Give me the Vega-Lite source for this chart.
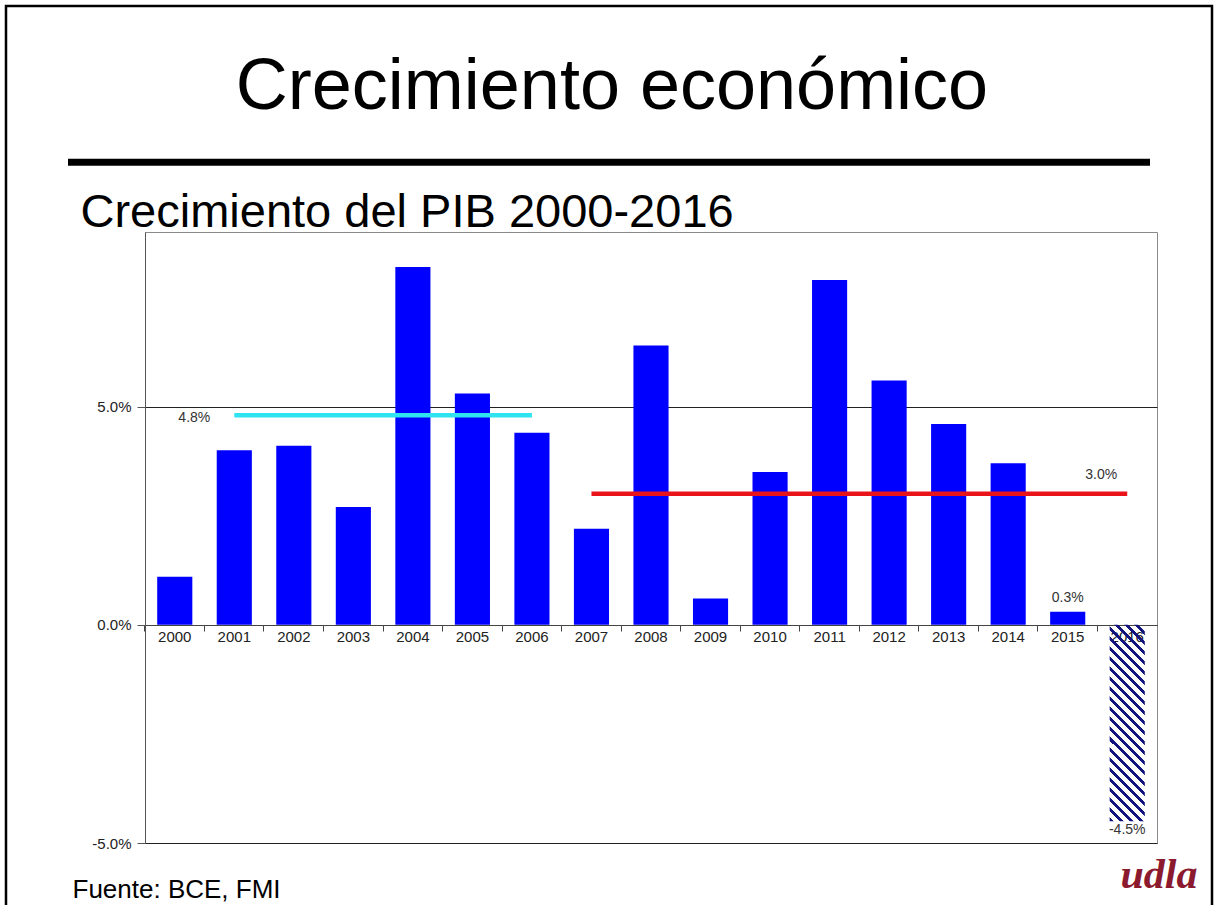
{
  "$schema": "https://vega.github.io/schema/vega-lite/v6.json",
  "autosize": {"type": "none"},
  "padding": {"left": 145, "top": 232, "right": 62, "bottom": 62},
  "width": 1012,
  "height": 611,
  "background": "white",
  "config": {
    "font": "Liberation Sans",
    "view": {"stroke": "#8a8a8a", "strokeWidth": 1}
  },
  "title": {
    "text": "Crecimiento económico",
    "font": "Liberation Sans",
    "fontSize": 72,
    "fontWeight": "normal",
    "color": "#000000",
    "anchor": "middle",
    "frame": "group",
    "baseline": "alphabetic",
    "offset": -176,
    "dx": -39
  },
  "datasets": {
    "gdp": [
      {"year": "2000", "value": 1.1},
      {"year": "2001", "value": 4.0},
      {"year": "2002", "value": 4.1},
      {"year": "2003", "value": 2.7},
      {"year": "2004", "value": 8.2},
      {"year": "2005", "value": 5.3},
      {"year": "2006", "value": 4.4},
      {"year": "2007", "value": 2.2},
      {"year": "2008", "value": 6.4},
      {"year": "2009", "value": 0.6},
      {"year": "2010", "value": 3.5},
      {"year": "2011", "value": 7.9},
      {"year": "2012", "value": 5.6},
      {"year": "2013", "value": 4.6},
      {"year": "2014", "value": 3.7},
      {"year": "2015", "value": 0.3},
      {"year": "2016", "value": -4.5}
    ],
    "avgs": [
      {"period": "2001-2006", "start": "2001", "end": "2006", "value": 4.8, "label": "4.8%"},
      {"period": "2007-2016", "start": "2007", "end": "2016", "value": 3.0, "label": "3.0%"}
    ],
    "notes": [
      {"year": "2015", "value": 0.3, "label": "0.3%"},
      {"year": "2016", "value": -4.5, "label": "-4.5%"}
    ]
  },
  "resolve": {"axis": {"x": "independent"}},
  "layer": [
    {
      "data": {"values": [{}]},
      "mark": {"type": "rect", "fill": null, "stroke": "#000000", "strokeWidth": 2.5},
      "encoding": {
        "x": {"value": -139},
        "x2": {"value": 1067},
        "y": {"value": -226},
        "y2": {"value": 700}
      }
    },
    {
      "data": {"values": [{}]},
      "mark": {"type": "rule", "color": "#000000", "strokeWidth": 7},
      "encoding": {
        "x": {"value": -77},
        "x2": {"value": 1005},
        "y": {"datum": 10.6, "type": "quantitative"}
      }
    },
    {
      "data": {"name": "gdp"},
      "transform": [{"filter": "datum.year !== '2016'"}],
      "mark": {"type": "bar", "color": "#0000ff"},
      "encoding": {
        "x": {
          "field": "year",
          "type": "nominal",
          "scale": {"paddingInner": 0.41, "paddingOuter": 0.205},
          "axis": {
            "orient": "bottom",
            "offset": -218,
            "labelAngle": 0,
            "labelFontSize": 15,
            "labelColor": "#222222",
            "labelPadding": 4,
            "ticks": false,
            "domain": true,
            "domainColor": "#444444",
            "domainWidth": 1,
            "title": "Fuente: BCE, FMI",
            "titleFont": "Liberation Sans",
            "titleFontSize": 26,
            "titleFontWeight": "normal",
            "titleColor": "#000000",
            "titleAngle": 0,
            "titleAlign": "left",
            "titleBaseline": "alphabetic",
            "titleAnchor": "start",
            "titleX": -73,
            "titleY": 272
          }
        },
        "y": {
          "field": "value",
          "type": "quantitative",
          "scale": {"domain": [-5, 9], "nice": false, "zero": false},
          "axis": {
            "values": [-5, 0, 5],
            "labelExpr": "replace(format(datum.value, '.1f'), '\u2212', '-') + '%'",
            "labelFontSize": 15,
            "labelColor": "#222222",
            "labelPadding": 6,
            "tickSize": 8,
            "tickColor": "#555555",
            "domainColor": "#555555",
            "grid": true,
            "gridColor": "#222222",
            "gridWidth": 1,
            "title": "Crecimiento del PIB 2000-2016",
            "titleFont": "Liberation Sans",
            "titleFontSize": 47,
            "titleFontWeight": "normal",
            "titleColor": "#000000",
            "titleAngle": 0,
            "titleAlign": "left",
            "titleBaseline": "alphabetic",
            "titleX": -65,
            "titleY": -6
          }
        }
      }
    },
    {
      "data": {"name": "gdp"},
      "transform": [{"filter": "datum.year === '2016'"}],
      "mark": {
        "type": "bar",
        "fill": {
          "gradient": "linear",
          "x1": 0, "y1": 1, "x2": 0.204, "y2": -0.142,
          "stops": [
            {"offset": 0, "color": "#14147e"}, {"offset": 0.01739, "color": "#14147e"}, {"offset": 0.01739, "color": "rgba(255,255,255,0)"}, {"offset": 0.04348, "color": "rgba(255,255,255,0)"},
            {"offset": 0.04348, "color": "#14147e"}, {"offset": 0.06087, "color": "#14147e"}, {"offset": 0.06087, "color": "rgba(255,255,255,0)"}, {"offset": 0.08696, "color": "rgba(255,255,255,0)"},
            {"offset": 0.08696, "color": "#14147e"}, {"offset": 0.10435, "color": "#14147e"}, {"offset": 0.10435, "color": "rgba(255,255,255,0)"}, {"offset": 0.13043, "color": "rgba(255,255,255,0)"},
            {"offset": 0.13043, "color": "#14147e"}, {"offset": 0.14783, "color": "#14147e"}, {"offset": 0.14783, "color": "rgba(255,255,255,0)"}, {"offset": 0.17391, "color": "rgba(255,255,255,0)"},
            {"offset": 0.17391, "color": "#14147e"}, {"offset": 0.19130, "color": "#14147e"}, {"offset": 0.19130, "color": "rgba(255,255,255,0)"}, {"offset": 0.21739, "color": "rgba(255,255,255,0)"},
            {"offset": 0.21739, "color": "#14147e"}, {"offset": 0.23478, "color": "#14147e"}, {"offset": 0.23478, "color": "rgba(255,255,255,0)"}, {"offset": 0.26087, "color": "rgba(255,255,255,0)"},
            {"offset": 0.26087, "color": "#14147e"}, {"offset": 0.27826, "color": "#14147e"}, {"offset": 0.27826, "color": "rgba(255,255,255,0)"}, {"offset": 0.30435, "color": "rgba(255,255,255,0)"},
            {"offset": 0.30435, "color": "#14147e"}, {"offset": 0.32174, "color": "#14147e"}, {"offset": 0.32174, "color": "rgba(255,255,255,0)"}, {"offset": 0.34783, "color": "rgba(255,255,255,0)"},
            {"offset": 0.34783, "color": "#14147e"}, {"offset": 0.36522, "color": "#14147e"}, {"offset": 0.36522, "color": "rgba(255,255,255,0)"}, {"offset": 0.39130, "color": "rgba(255,255,255,0)"},
            {"offset": 0.39130, "color": "#14147e"}, {"offset": 0.40870, "color": "#14147e"}, {"offset": 0.40870, "color": "rgba(255,255,255,0)"}, {"offset": 0.43478, "color": "rgba(255,255,255,0)"},
            {"offset": 0.43478, "color": "#14147e"}, {"offset": 0.45217, "color": "#14147e"}, {"offset": 0.45217, "color": "rgba(255,255,255,0)"}, {"offset": 0.47826, "color": "rgba(255,255,255,0)"},
            {"offset": 0.47826, "color": "#14147e"}, {"offset": 0.49565, "color": "#14147e"}, {"offset": 0.49565, "color": "rgba(255,255,255,0)"}, {"offset": 0.52174, "color": "rgba(255,255,255,0)"},
            {"offset": 0.52174, "color": "#14147e"}, {"offset": 0.53913, "color": "#14147e"}, {"offset": 0.53913, "color": "rgba(255,255,255,0)"}, {"offset": 0.56522, "color": "rgba(255,255,255,0)"},
            {"offset": 0.56522, "color": "#14147e"}, {"offset": 0.58261, "color": "#14147e"}, {"offset": 0.58261, "color": "rgba(255,255,255,0)"}, {"offset": 0.60870, "color": "rgba(255,255,255,0)"},
            {"offset": 0.60870, "color": "#14147e"}, {"offset": 0.62609, "color": "#14147e"}, {"offset": 0.62609, "color": "rgba(255,255,255,0)"}, {"offset": 0.65217, "color": "rgba(255,255,255,0)"},
            {"offset": 0.65217, "color": "#14147e"}, {"offset": 0.66957, "color": "#14147e"}, {"offset": 0.66957, "color": "rgba(255,255,255,0)"}, {"offset": 0.69565, "color": "rgba(255,255,255,0)"},
            {"offset": 0.69565, "color": "#14147e"}, {"offset": 0.71304, "color": "#14147e"}, {"offset": 0.71304, "color": "rgba(255,255,255,0)"}, {"offset": 0.73913, "color": "rgba(255,255,255,0)"},
            {"offset": 0.73913, "color": "#14147e"}, {"offset": 0.75652, "color": "#14147e"}, {"offset": 0.75652, "color": "rgba(255,255,255,0)"}, {"offset": 0.78261, "color": "rgba(255,255,255,0)"},
            {"offset": 0.78261, "color": "#14147e"}, {"offset": 0.80000, "color": "#14147e"}, {"offset": 0.80000, "color": "rgba(255,255,255,0)"}, {"offset": 0.82609, "color": "rgba(255,255,255,0)"},
            {"offset": 0.82609, "color": "#14147e"}, {"offset": 0.84348, "color": "#14147e"}, {"offset": 0.84348, "color": "rgba(255,255,255,0)"}, {"offset": 0.86957, "color": "rgba(255,255,255,0)"},
            {"offset": 0.86957, "color": "#14147e"}, {"offset": 0.88696, "color": "#14147e"}, {"offset": 0.88696, "color": "rgba(255,255,255,0)"}, {"offset": 0.91304, "color": "rgba(255,255,255,0)"},
            {"offset": 0.91304, "color": "#14147e"}, {"offset": 0.93043, "color": "#14147e"}, {"offset": 0.93043, "color": "rgba(255,255,255,0)"}, {"offset": 0.95652, "color": "rgba(255,255,255,0)"},
            {"offset": 0.95652, "color": "#14147e"}, {"offset": 0.97391, "color": "#14147e"}, {"offset": 0.97391, "color": "rgba(255,255,255,0)"}, {"offset": 1, "color": "rgba(255,255,255,0)"}
          ]
        }
      },
      "encoding": {
        "x": {"field": "year", "type": "nominal", "axis": null},
        "y": {"field": "value", "type": "quantitative"}
      }
    },
    {
      "data": {"name": "avgs"},
      "mark": {"type": "rule", "strokeWidth": 4.5},
      "encoding": {
        "x": {
          "field": "start",
          "type": "nominal",
          "axis": {
            "orient": "bottom",
            "offset": -218,
            "bandPosition": -0.35,
            "labels": false,
            "domain": false,
            "ticks": true,
            "tickSize": 6,
            "tickColor": "#444444",
            "title": "udla",
            "titleFont": "Liberation Serif",
            "titleFontSize": 42,
            "titleFontStyle": "italic",
            "titleFontWeight": "bold",
            "titleColor": "#8b1a2e",
            "titleAngle": 0,
            "titleAlign": "left",
            "titleBaseline": "alphabetic",
            "titleX": 975,
            "titleY": 262
          }
        },
        "x2": {"field": "end"},
        "y": {"field": "value", "type": "quantitative"},
        "color": {
          "field": "period",
          "type": "nominal",
          "scale": {"domain": ["2001-2006", "2007-2016"], "range": ["#2fe4f0", "#e8141a"]},
          "legend": null
        }
      }
    },
    {
      "data": {"name": "notes"},
      "transform": [{"filter": "datum.value >= 0"}],
      "mark": {"type": "text", "baseline": "bottom", "dy": -7, "fontSize": 14, "color": "#333333"},
      "encoding": {
        "x": {"field": "year", "type": "nominal", "axis": null},
        "y": {"field": "value", "type": "quantitative"},
        "text": {"field": "label"}
      }
    },
    {
      "data": {"name": "notes"},
      "transform": [{"filter": "datum.value < 0"}],
      "mark": {"type": "text", "baseline": "top", "dy": 2, "fontSize": 14, "color": "#333333"},
      "encoding": {
        "x": {"field": "year", "type": "nominal", "axis": null},
        "y": {"field": "value", "type": "quantitative"},
        "text": {"field": "label"}
      }
    },
    {
      "data": {"name": "avgs"},
      "transform": [{"filter": "datum.period === '2001-2006'"}],
      "mark": {"type": "text", "align": "right", "baseline": "middle", "dx": -24, "dy": 3, "fontSize": 14, "color": "#333333"},
      "encoding": {
        "x": {"field": "start", "type": "nominal", "axis": null},
        "y": {"field": "value", "type": "quantitative"},
        "text": {"field": "label"}
      }
    },
    {
      "data": {"name": "avgs"},
      "transform": [{"filter": "datum.period === '2007-2016'"}],
      "mark": {"type": "text", "align": "right", "baseline": "middle", "dx": -10, "dy": -19, "fontSize": 14, "color": "#333333"},
      "encoding": {
        "x": {"field": "end", "type": "nominal", "axis": null},
        "y": {"field": "value", "type": "quantitative"},
        "text": {"field": "label"}
      }
    }
  ]
}
